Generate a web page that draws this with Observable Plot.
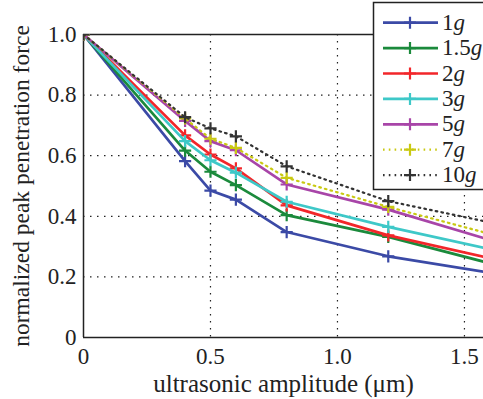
<!DOCTYPE html>
<html>
<head>
<meta charset="utf-8">
<script src="https://cdn.jsdelivr.net/npm/d3@7"></script>
<script src="https://cdn.jsdelivr.net/npm/@observablehq/plot@0.6"></script>
<style>
  html, body { margin: 0; padding: 0; background: #fff; overflow: hidden; }
  #chart { width: 483px; height: 399px; }
  #chart svg text { font-family: "Liberation Serif", "Times New Roman", Times, serif; }
</style>
</head>
<body>
<div id="chart"></div>
<script>
// ultrasonic amplitude (µm)
const amplitudes = [0, 0.4, 0.5, 0.6, 0.8, 1.2, 1.6];
// normalized peak penetration force per mass
const g1  = [1, 0.582, 0.485, 0.455, 0.348, 0.268, 0.214];
const g15 = [1, 0.617, 0.547, 0.503, 0.404, 0.332, 0.245];
const g2  = [1, 0.667, 0.604, 0.558, 0.436, 0.337, 0.262];
const g3  = [1, 0.648, 0.585, 0.544, 0.448, 0.365, 0.292];
const g5  = [1, 0.715, 0.648, 0.618, 0.505, 0.422, 0.322];
const g7  = [1, 0.723, 0.656, 0.626, 0.527, 0.431, 0.342];
const g10 = [1, 0.727, 0.690, 0.664, 0.565, 0.450, 0.380];

const seriesNames = ["1", "1.5", "2", "3", "5", "7", "10"];
const seriesValues = [g1, g15, g2, g3, g5, g7, g10];
const seriesColors = ["#3b4aa6", "#1b8a3c", "#f2262a", "#3ec8c8", "#a845a8", "#c9c912", "#333333"];
const seriesDotted = [false, false, false, false, false, true, true];

const xTicks = [0, 0.5, 1.0, 1.5];
const yTicks = [0, 0.2, 0.4, 0.6, 0.8, 1.0];

const rows = [];
seriesNames.forEach((name, i) => {
  seriesValues[i].forEach((v, j) => rows.push({series: name, x: amplitudes[j], y: v, idx: i}));
});

const fmt = d => d === 0 ? "0" : d.toFixed(1);
const font = '"Liberation Serif", "Times New Roman", Times, serif';

const marks = [
  Plot.gridX([0.5, 1.0, 1.5], {stroke: "#222", strokeOpacity: 1, strokeWidth: 1.2, strokeDasharray: "1.5,5.5"}),
  Plot.gridY([0.2, 0.4, 0.6, 0.8], {stroke: "#222", strokeOpacity: 1, strokeWidth: 1.2, strokeDasharray: "1.5,5.5"}),
  Plot.ruleY([1], {stroke: "#222", strokeWidth: 1.5}),
  Plot.ruleY([0], {stroke: "#222", strokeWidth: 1.5}),
  Plot.ruleX([0], {stroke: "#222", strokeWidth: 1.5}),
  Plot.axisX({ticks: xTicks, tickFormat: fmt, tickSize: 0, tickPadding: 10, fontSize: 23, label: null}),
  Plot.axisX({ticks: [], label: "ultrasonic amplitude (μm)", labelAnchor: "center", labelOffset: 54, labelArrow: "none", fontSize: 25}),
  Plot.axisY({ticks: yTicks, tickFormat: fmt, tickSize: 0, tickPadding: 7, fontSize: 23, label: null}),
  Plot.axisY({ticks: [], label: "normalized peak penetration force", labelAnchor: "center", labelOffset: 71, labelArrow: "none", fontSize: 23.5})
];

seriesNames.forEach((name, i) => {
  const data = rows.filter(r => r.idx === i);
  marks.push(Plot.line(data, {
    x: "x", y: "y", stroke: seriesColors[i], strokeWidth: seriesDotted[i] ? 2.2 : 2.7,
    strokeDasharray: seriesDotted[i] ? "1.6,4.2" : null, clip: true
  }));
  marks.push(Plot.dot(data, {
    x: "x", y: "y", symbol: "plus", r: 4, stroke: seriesColors[i], strokeWidth: 2.2, clip: true
  }));
});

const svg = Plot.plot({
  width: 483,
  height: 399,
  marginLeft: 83,
  marginRight: 0,
  marginTop: 34,
  marginBottom: 62,
  style: {fontFamily: font, fontSize: "22px", color: "#222", background: "#fff"},
  x: {domain: [0, 1.575]},
  y: {domain: [0, 1]},
  marks
});

document.getElementById("chart").appendChild(svg);

// legend drawn over the top-right corner of the plot
const lg = d3.select(svg).append("g").attr("font-size", 23).attr("text-anchor", "start");
lg.append("rect").attr("x", 373.5).attr("y", 2.5).attr("width", 130).attr("height", 187)
  .attr("fill", "#fff").attr("stroke", "#222").attr("stroke-width", 1.5);
seriesNames.forEach((name, i) => {
  const y = 22.7 + i * 25.4;
  lg.append("line").attr("x1", 383).attr("x2", 438).attr("y1", y).attr("y2", y)
    .attr("stroke", seriesColors[i]).attr("stroke-width", seriesDotted[i] ? 2.2 : 2.7)
    .attr("stroke-dasharray", seriesDotted[i] ? "1.6,4.2" : null);
  lg.append("path").attr("d", `M404,${y}h12M410,${y - 6}v12`)
    .attr("stroke", seriesColors[i]).attr("stroke-width", 2.2).attr("fill", "none");
  const t = lg.append("text").attr("x", 442).attr("y", y + 7).attr("fill", "#222");
  t.append("tspan").text(name);
  t.append("tspan").attr("font-style", "italic").text("g");
});
</script>
</body>
</html>
